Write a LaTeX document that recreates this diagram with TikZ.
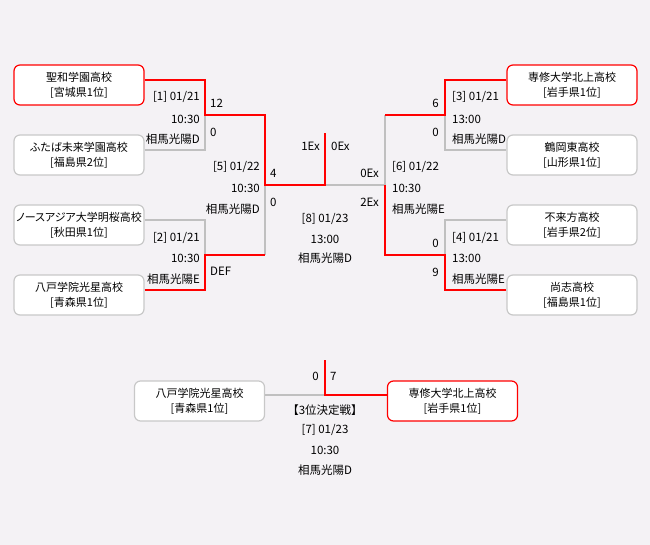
\documentclass[tikz,border=0pt]{standalone}
\usepackage{fontspec}
\setmainfont{Noto Sans CJK JP}
\newfontfamily\teamfont{Noto Sans CJK JP}[RawFeature=+palt]
\usepackage{tikz}

\definecolor{bg}{HTML}{F4F2F5}
\definecolor{winred}{HTML}{FF0000}
\definecolor{losegray}{HTML}{C0C0C0}
\definecolor{boxgray}{HTML}{C8C8C8}

\tikzset{
    team/.style={draw=boxgray, fill=white, line width=1.2pt, rounded corners=6pt,
        minimum width=130pt, minimum height=40pt, inner sep=0pt, align=center,
        font=\teamfont\fontsize{11}{15}\selectfont},
    teamwin/.style={team, draw=winred},
    win/.style={draw=winred, line width=2.6pt},
    lose/.style={draw=losegray, line width=2.6pt},
    info/.style={inner sep=0pt, font=\fontsize{11.5}{13}\selectfont},
}

\begin{document}
\begin{tikzpicture}[x=1pt, y=-1pt]

    % Canvas
    \fill[bg] (0,0) rectangle (650,545);
    \useasboundingbox (0,0) rectangle (650,545);

    % Teams, left side
    \node[teamwin] (T-1) at (79,85)  {聖和学園高校\\{[}宮城県1位{]}};
    \node[team]    (T-2) at (79,155) {ふたば未来学園高校\\{[}福島県2位{]}};
    \node[team]    (T-3) at (79,225) {ノースアジア大学明桜高校\\{[}秋田県1位{]}};
    \node[team]    (T-4) at (79,295) {八戸学院光星高校\\{[}青森県1位{]}};

    % Teams, right side
    \node[teamwin] (T-5) at (572,85)  {専修大学北上高校\\{[}岩手県1位{]}};
    \node[team]    (T-6) at (572,155) {鶴岡東高校\\{[}山形県1位{]}};
    \node[team]    (T-7) at (572,225) {不来方高校\\{[}岩手県2位{]}};
    \node[team]    (T-8) at (572,295) {尚志高校\\{[}福島県1位{]}};

    % Teams, third place match
    \node[team]    (B-1) at (199.5,401) {八戸学院光星高校\\{[}青森県1位{]}};
    \node[teamwin] (B-2) at (452.5,401) {専修大学北上高校\\{[}岩手県1位{]}};

    % Bracket joints
    \coordinate (M-1) at (205,115);
    \coordinate (M-2) at (205,255);
    \coordinate (M-3) at (445,115);
    \coordinate (M-4) at (445,255);
    \coordinate (M-5) at (265,185);
    \coordinate (M-6) at (385,185);
    \coordinate (M-8) at (325,185);
    \coordinate (champ) at (325,133);
    \coordinate (M-7) at (325,395);
    \coordinate (third) at (325,360);

    % Lost paths
    \draw[lose] ([yshift=5pt]T-2.east) -| (M-1);
    \draw[lose] ([yshift=5pt]T-3.east) -| (M-2);
    \draw[lose] (M-2 -| M-5) -- (M-5);
    \draw[lose] ([yshift=5pt]T-6.west) -| (M-3);
    \draw[lose] ([yshift=5pt]T-7.west) -| (M-4);
    \draw[lose] (M-3 -| M-6) -- (M-6) -- (M-8);
    \draw[lose] ([yshift=6pt]B-1.east) -- (M-7);

    % Winning paths
    \draw[win] ([yshift=5pt]T-1.east) -| (M-1) -| (M-5) -- (M-8) -- (champ);
    \draw[win] ([yshift=5pt]T-4.east) -| (M-2) -- (M-2 -| M-5);
    \draw[win] ([yshift=5pt]T-5.west) -| (M-3) -- (M-3 -| M-6);
    \draw[win] ([yshift=5pt]T-8.west) -| (M-4) -- (M-4 -| M-6) -- (M-6);
    \draw[win] ([yshift=6pt]B-2.west) -- (M-7) -- (third);

    % Match [1]
    \node[info, anchor=east] (d-1) at (200,97)  {[1] 01/21};
    \node[info, anchor=east] (t-1) at (200,119) {10:30};
    \node[info, anchor=east] (v-1) at (200,139) {相馬光陽D};
    \node[info, anchor=west] (s-1a) at (210,103) {12};
    \node[info, anchor=west] (s-1b) at (210,132) {0};

    % Match [2]
    \node[info, anchor=east] (d-2) at (200,238) {[2] 01/21};
    \node[info, anchor=east] (t-2) at (200,258) {10:30};
    \node[info, anchor=east] (v-2) at (200,279) {相馬光陽E};
    \node[info, anchor=west] (s-2b) at (210,271) {DEF};

    % Match [3]
    \node[info, anchor=west] (d-3) at (452,97)  {[3] 01/21};
    \node[info, anchor=west] (t-3) at (452,119) {13:00};
    \node[info, anchor=west] (v-3) at (452,139) {相馬光陽D};
    \node[info, anchor=east] (s-3a) at (439,103) {6};
    \node[info, anchor=east] (s-3b) at (439,132) {0};

    % Match [4]
    \node[info, anchor=west] (d-4) at (452,238) {[4] 01/21};
    \node[info, anchor=west] (t-4) at (452,258) {13:00};
    \node[info, anchor=west] (v-4) at (452,279) {相馬光陽E};
    \node[info, anchor=east] (s-4a) at (439,243) {0};
    \node[info, anchor=east] (s-4b) at (439,272) {9};

    % Match [5]
    \node[info, anchor=east] (d-5) at (260,167) {[5] 01/22};
    \node[info, anchor=east] (t-5) at (260,188) {10:30};
    \node[info, anchor=east] (v-5) at (260,209) {相馬光陽D};
    \node[info, anchor=west] (s-5a) at (270,173) {4};
    \node[info, anchor=west] (s-5b) at (270,202) {0};

    % Match [6]
    \node[info, anchor=west] (d-6) at (392,167) {[6] 01/22};
    \node[info, anchor=west] (t-6) at (392,188) {10:30};
    \node[info, anchor=west] (v-6) at (392,209) {相馬光陽E};
    \node[info, anchor=east] (s-6a) at (379,173) {0Ex};
    \node[info, anchor=east] (s-6b) at (379,202) {2Ex};

    % Final [8]
    \node[info, anchor=east] (s-8a) at (320,146) {1Ex};
    \node[info, anchor=west] (s-8b) at (331,146) {0Ex};
    \node[info] (d-8) at (325,219) {[8] 01/23};
    \node[info] (t-8) at (325,239) {13:00};
    \node[info] (v-8) at (325,258) {相馬光陽D};

    % Third place [7]
    \node[info, anchor=east] (s-7a) at (319,376) {0};
    \node[info, anchor=west] (s-7b) at (330,376) {7};
    \node[info] (n-7) at (325,410) {【3位決定戦】};
    \node[info] (d-7) at (325,430) {[7] 01/23};
    \node[info] (t-7) at (325,450) {10:30};
    \node[info] (v-7) at (325,470) {相馬光陽D};

\end{tikzpicture}
\end{document}
